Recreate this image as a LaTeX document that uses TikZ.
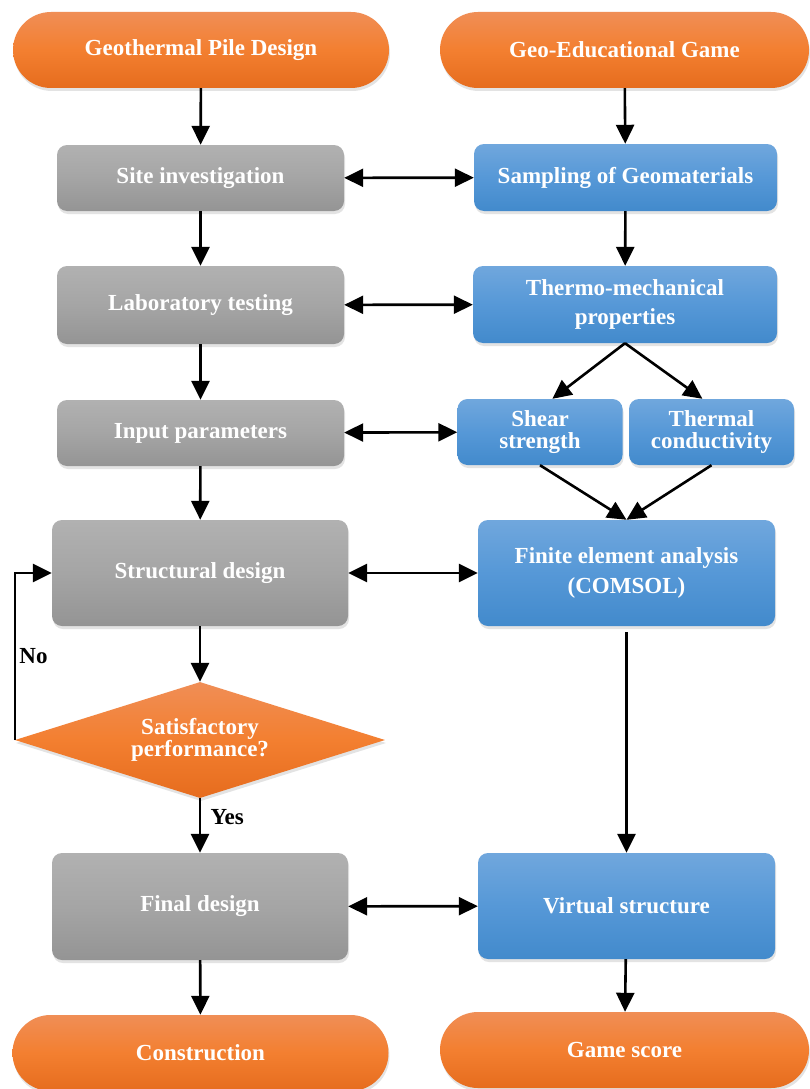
\documentclass[tikz,border=0pt]{standalone}
\usepackage{fontspec}
\setmainfont{Liberation Serif}
\usetikzlibrary{arrows.meta,shapes.geometric,shadows,calc}

\begin{document}
\begin{tikzpicture}[x=1pt,y=-1pt,
            every node/.style={font=\fontsize{23}{25}\selectfont\bfseries, text=white, align=center},
            soft/.style={drop shadow={shadow xshift=1pt, shadow yshift=-3pt, opacity=0.22}},
            stadium/.style={rectangle, rounded corners=38pt, minimum width=376pt, minimum height=76pt,
                top color=orangetop, bottom color=orangebot, middle color=orangemid, soft},
            graybox/.style={rectangle, rounded corners=10pt, minimum width=287pt, minimum height=66pt,
                top color=graytop, bottom color=graybot, middle color=graymid, soft},
            bluebox/.style={rectangle, rounded corners=10pt, minimum width=303pt, minimum height=67pt,
                top color=bluetop, bottom color=bluebot, middle color=bluemid, soft},
            decision/.style={diamond, aspect=3.2, minimum width=370pt, minimum height=116pt, inner sep=0pt,
                top color=orangetop, bottom color=orangebot, middle color=orangemid, soft},
            tag/.style={text=black},
            link/.style={line width=2.6pt, -{Triangle[length=19pt,width=18pt]}},
            twoway/.style={line width=2.6pt, {Triangle[length=19pt,width=18pt]}-{Triangle[length=19pt,width=18pt]}}]
            \definecolor{orangetop}{RGB}{240, 142, 86}
            \definecolor{orangemid}{RGB}{243, 127, 48}
            \definecolor{orangebot}{RGB}{230, 108, 30}
            \definecolor{graytop}{RGB}{177, 177, 177}
            \definecolor{graymid}{RGB}{165, 165, 165}
            \definecolor{graybot}{RGB}{148, 148, 148}
            \definecolor{bluetop}{RGB}{112, 167, 221}
            \definecolor{bluemid}{RGB}{86, 152, 215}
            \definecolor{bluebot}{RGB}{66, 138, 204}

            \useasboundingbox[fill=white] (0,0) rectangle (809,1089);

            \node[stadium] (pile) at (201,50) {Geothermal Pile Design};
            \node[stadium, minimum width=369pt] (game) at (624.5,50) {Geo-Educational Game};

            \node[graybox] (site) at (200.5,178) {Site investigation};
            \node[graybox, minimum height=78pt] (lab) at (200.5,305) {Laboratory testing};
            \node[graybox] (input) at (200.5,433) {Input parameters};
            \node[graybox, minimum width=296pt, minimum height=106pt] (struct) at (200,573) {Structural design};
            \node[decision] (satisf) at (200,740) {Satisfactory\\[-3pt]performance?};
            \node[graybox, minimum width=296pt, minimum height=107pt] (final) at (200,906.5) {Final design};
            \node[stadium] (constr) at (200.5,1053) {Construction};

            \node[bluebox] (sampling) at (625.5,177.5) {Sampling of Geomaterials};
            \node[bluebox, minimum width=304pt, minimum height=77pt] (thermo) at (625,304.5) {Thermo-mechanical\\[4pt]properties};
            \node[bluebox, minimum width=165pt, minimum height=66pt] (shear) at (540,432) {Shear\\[-3pt]strength};
            \node[bluebox, minimum width=165pt, minimum height=66pt] (thermal) at (711.5,432) {Thermal\\[-3pt]conductivity};
            \node[bluebox, minimum width=297pt, minimum height=106pt] (fea) at (626.5,573) {Finite element analysis\\[5pt](COMSOL)};
            \node[bluebox, minimum width=297pt, minimum height=106pt] (virtual) at (626.5,906) {Virtual structure};
            \node[stadium, minimum width=369pt] (score) at (624.5,1050) {Game score};

            \draw[link] (pile) -- (site);
            \draw[link] (site) -- (lab);
            \draw[link] (lab) -- (input);
            \draw[link] (input) -- (struct);
            \draw[link] (struct) -- (satisf);
            \draw[link] (satisf) -- node[tag, right, xshift=6pt, pos=0.35] (yes) {Yes} (final);
            \draw[link] (satisf.west) |- node[tag, right, pos=0.25] (no) {No} (struct.west);
            \draw[link] (final) -- (constr);

            \draw[link] (game) -- (sampling);
            \draw[link] (sampling) -- (thermo);
            \draw[link] (thermo.south) -- ($(shear.north)!0.15!(shear.north east)$);
            \draw[link] (thermo.south) -- ($(thermal.north)!0.11!(thermal.north west)$);
            \draw[link] (shear.south) -- (fea.north);
            \draw[link] (thermal.south) -- (fea.north);
            \draw[link, shorten <=6pt] (fea) -- (virtual);
            \draw[link] (virtual) -- (score);

            \draw[twoway] (site) -- (sampling);
            \draw[twoway] (lab) -- (thermo);
            \draw[twoway] (input) -- (shear);
            \draw[twoway] (struct) -- (fea);
            \draw[twoway] (final) -- (virtual);
        \end{tikzpicture}
\end{document}
